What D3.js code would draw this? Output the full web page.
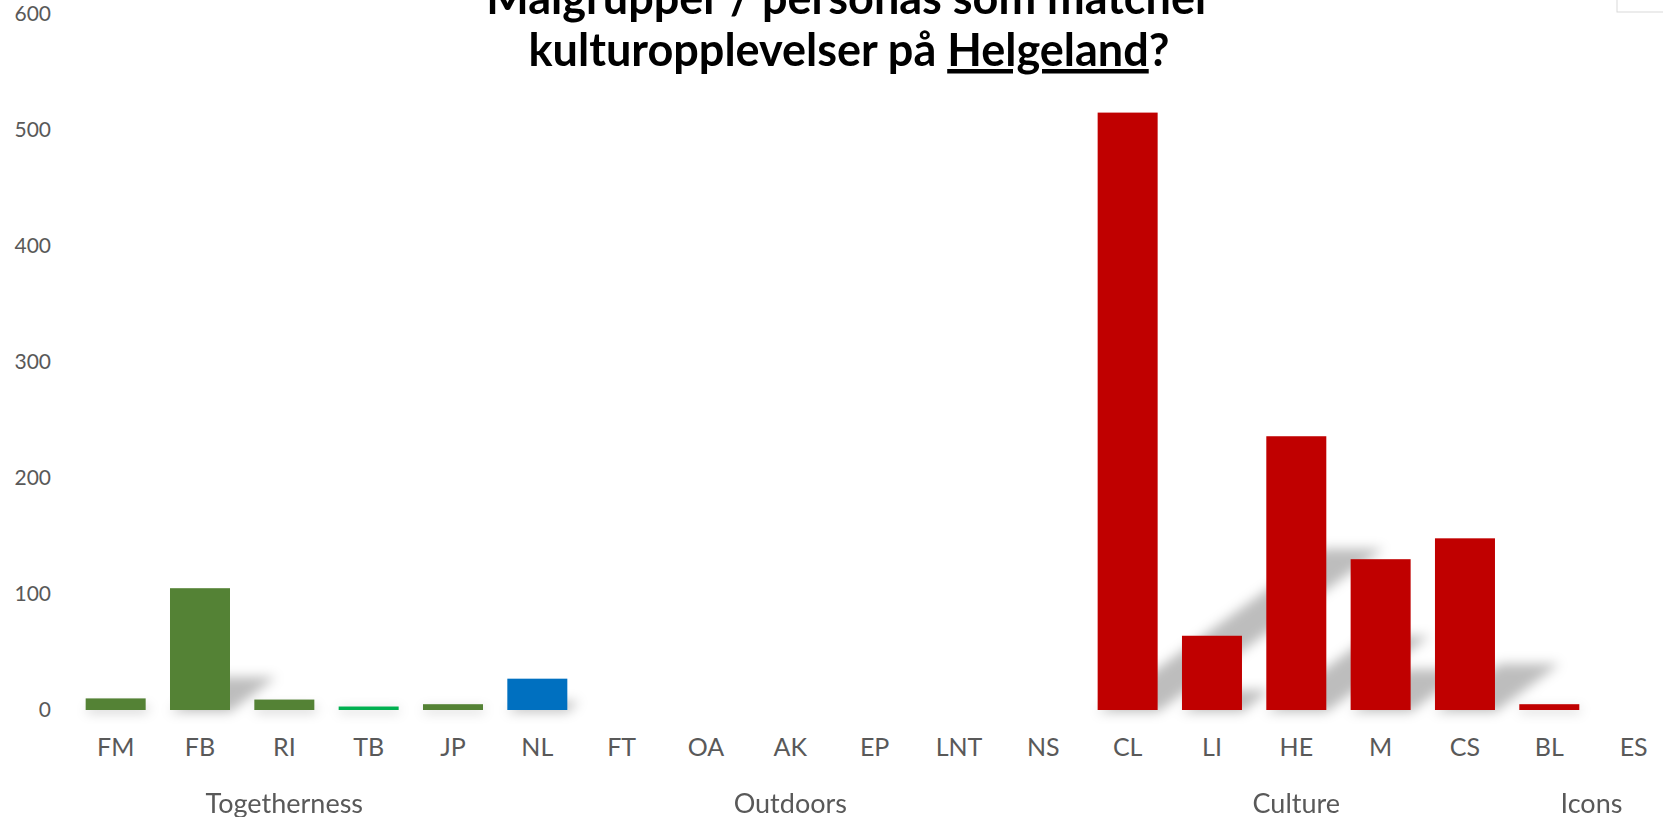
<!DOCTYPE html>
<html>
<head>
<meta charset="utf-8">
<script src="https://cdn.jsdelivr.net/npm/d3@7"></script>
<style>
  body { margin: 0; background: #fff; overflow: hidden; }
  text { font-family: Lato, "Open Sans", sans-serif; }
</style>
</head>
<body>
<script>
// categories, one bar each
const categories = ['FM', 'FB', 'RI', 'TB', 'JP', 'NL', 'FT', 'OA', 'AK', 'EP', 'LNT', 'NS', 'CL', 'LI', 'HE', 'M', 'CS', 'BL', 'ES']
const values = [10, 105, 9, 3, 5, 27, 0, 0, 0, 0, 0, 0, 515, 64, 236, 130, 148, 5, 0]
const barColors = ['#548235', '#548235', '#548235', '#00b050', '#548235', '#0070c0', '#0070c0', '#0070c0', '#0070c0', '#0070c0', '#0070c0', '#0070c0', '#c00000', '#c00000', '#c00000', '#c00000', '#c00000', '#c00000', '#c00000']

// groups along the bottom: name, first and last category
const groupNames = ['Togetherness', 'Outdoors', 'Culture', 'Icons']
const groupFirst = ['FM', 'NL', 'CL', 'BL']
const groupLast = ['JP', 'NS', 'CS', 'ES']

const yTicks = [0, 100, 200, 300, 400, 500, 600]

const titleLine1 = 'Målgrupper / personas som matcher'
const titleLine2a = 'kulturopplevelser på '
const titleLine2b = 'Helgeland'
const titleLine2c = '?'

const width = 1663
const height = 817

const svg = d3.select('body')
    .append('svg')
    .attr('width', width)
    .attr('height', height)

const xScale = d3.scaleBand()
    .domain(categories)
    .range([73.5, 1675.8])
    .paddingInner(0.2885)
    .paddingOuter(0.14425)

const yScale = d3.scaleLinear()
    .domain([0, 600])
    .range([710, 14])

const color = d3.scaleOrdinal()
    .domain(categories)
    .range(barColors)

const data = categories.map(function(c, i) {
    return { name: c, value: values[i] }
})

// perspective shadow, leaning up and to the right
const defs = svg.append('defs')
defs.append('filter')
    .attr('id', 'blur')
    .attr('x', '-50%').attr('y', '-50%')
    .attr('width', '200%').attr('height', '200%')
    .append('feGaussianBlur')
    .attr('stdDeviation', 6)

const shadowK = 0.27
const shadowS = 1.4

svg.append('g')
    .attr('class', 'shadows')
    .attr('filter', 'url(#blur)')
    .selectAll('path')
    .data(data.filter(function(d) { return d.value > 0 }))
    .enter()
    .append('path')
    .attr('d', function(d) {
        const x0 = xScale(d.name)
        const x1 = x0 + xScale.bandwidth()
        const y0 = yScale(0)
        const sh = (y0 - yScale(d.value)) * shadowK
        const dx = sh * shadowS
        return 'M' + x0 + ',' + (y0 + 2) + 'L' + x1 + ',' + (y0 + 2) +
            'L' + (x1 + dx) + ',' + (y0 - sh) + 'L' + (x0 + dx) + ',' + (y0 - sh) + 'Z'
    })
    .style('fill', '#000')
    .style('opacity', 0.26)

svg.append('g')
    .attr('class', 'bars')
    .selectAll('rect')
    .data(data)
    .enter()
    .append('rect')
    .attr('x', function(d) { return xScale(d.name) })
    .attr('y', function(d) { return yScale(d.value) })
    .attr('width', xScale.bandwidth())
    .attr('height', function(d) { return yScale(0) - yScale(d.value) })
    .style('fill', function(d) { return color(d.name) })

// y axis, labels only
const yAxis = d3.axisLeft(yScale)
    .tickValues(yTicks)
    .tickSize(0)
    .tickPadding(0)

svg.append('g')
    .attr('class', 'y axis')
    .attr('transform', 'translate(51,0)')
    .call(yAxis)
    .call(function(g) { g.select('.domain').remove() })
    .selectAll('text')
    .style('font-family', 'Lato, sans-serif')
    .style('font-size', '21px')
    .style('fill', '#595959')

// x axis, category labels
const xAxis = d3.axisBottom(xScale)
    .tickSize(0)
    .tickPadding(0)

svg.append('g')
    .attr('class', 'x axis')
    .attr('transform', 'translate(0,756)')
    .call(xAxis)
    .call(function(g) { g.select('.domain').remove() })
    .selectAll('text')
    .attr('dy', 0)
    .style('font-family', 'Lato, sans-serif')
    .style('font-size', '25px')
    .style('fill', '#595959')

// group labels
svg.append('g')
    .attr('class', 'groups')
    .selectAll('text')
    .data(groupNames)
    .enter()
    .append('text')
    .attr('x', function(d, i) {
        const a = xScale(groupFirst[i])
        const b = xScale(groupLast[i]) + xScale.bandwidth()
        return (a + b) / 2
    })
    .attr('y', 813)
    .attr('text-anchor', 'middle')
    .style('font-size', '27px')
    .style('fill', '#595959')
    .text(function(d) { return d })

// title, top line is cut by the edge
const title = svg.append('g')
    .attr('class', 'title')
    .style('font-size', '45px')
    .style('font-weight', 'bold')
    .style('fill', '#000')

title.append('text')
    .attr('x', 849)
    .attr('y', 14)
    .attr('text-anchor', 'middle')
    .text(titleLine1)

const t2 = title.append('text')
    .attr('x', 849)
    .attr('y', 66)
    .attr('text-anchor', 'middle')
t2.append('tspan').text(titleLine2a)
t2.append('tspan').style('text-decoration', 'underline').text(titleLine2b)
t2.append('tspan').text(titleLine2c)

// corner of a box poking in at the top right
svg.append('rect')
    .attr('x', 1617)
    .attr('y', -2)
    .attr('width', 60)
    .attr('height', 14)
    .style('fill', '#fff')
    .style('stroke', '#d9d9d9')
    .style('stroke-width', 1)
</script>
</body>
</html>
